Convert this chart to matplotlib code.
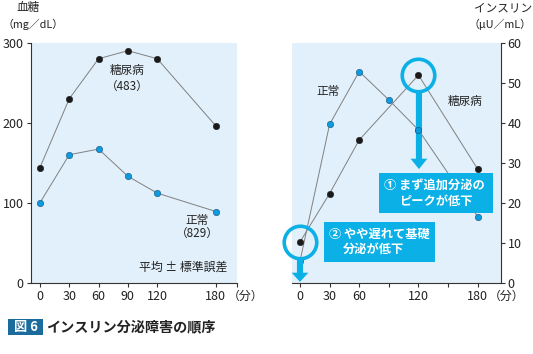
import matplotlib
matplotlib.use("Agg")
import matplotlib.pyplot as plt
from matplotlib.patches import Rectangle, FancyArrow

plt.rcParams['font.family'] = ['Noto Sans CJK JP', 'DejaVu Sans']

# data
minutes = [0, 30, 60, 90, 120, 180]
glucose_dm = [144, 230, 280, 290, 280, 196]
glucose_normal = [100, 160, 167, 133, 112, 89]
insulin_normal = [5.4, 39.6, 52.8, 45.7, 38.2, 16.5]
insulin_dm_minutes = [0, 30, 60, 120, 180]
insulin_dm = [10.2, 22.3, 35.7, 51.9, 28.4]

glucose_ticks = [0, 100, 200, 300]
insulin_ticks = [0, 10, 20, 30, 40, 50, 60]
left_xticks = [0, 30, 60, 90, 120, 180]
right_xticks = [0, 30, 60, 90, 120, 150, 180]
right_xlabels = ['0', '30', '60', '', '120', '', '180']

W, H = 533, 354
BG = '#e1f0fb'
CYAN = '#0bb0e6'
BLUE = '#0a9be0'
DARK = '#1a1a1a'
TXT = '#222222'
LINE = '#808080'


def fx(x):
    return x / W


def fy(y):
    return 1 - y / H


fig = plt.figure(figsize=(W / 100, H / 100), dpi=100)

axL = fig.add_axes([fx(30.7), fy(282.7), (237.3 - 30.7) / W, 240 / H])
axR = fig.add_axes([fx(292.3), fy(282.7), (500.7 - 292.3) / W, 240 / H])

for ax in (axL, axR):
    ax.set_facecolor(BG)
    ax.tick_params(colors='#333333', labelcolor=TXT, labelsize=9,
                   length=3, width=0.8, pad=2)
    ax.spines['top'].set_visible(False)
    ax.spines['bottom'].set_color('#333333')
    ax.spines['bottom'].set_linewidth(0.8)

# --- left: blood glucose
axL.spines['right'].set_visible(False)
axL.spines['left'].set_color('#333333')
axL.spines['left'].set_linewidth(0.8)
axL.set_xlim(-9.5, 202)
axL.set_ylim(0, 300)
axL.set_xticks(left_xticks)
axL.set_xticks([202], minor=True)
axL.tick_params(axis='x', which='minor', length=3, width=0.8, colors='#333333')
axL.set_yticks(glucose_ticks)

axL.plot(minutes, glucose_dm, color=LINE, lw=0.7, marker='o', ms=4.6,
         mfc=DARK, mec=DARK, mew=0.4, zorder=3)
axL.plot(minutes, glucose_normal, color=LINE, lw=0.7, marker='o', ms=4.6,
         mfc=BLUE, mec='#1b4f75', mew=0.4, zorder=3)

# --- right: insulin
axR.spines['left'].set_visible(False)
axR.spines['right'].set_color('#333333')
axR.spines['right'].set_linewidth(0.8)
axR.yaxis.tick_right()
axR.set_xlim(-7.8, 203.3)
axR.set_ylim(0, 60)
axR.set_xticks(right_xticks)
axR.set_xticklabels(right_xlabels)
axR.set_yticks(insulin_ticks)

axR.plot(minutes, insulin_normal, color=LINE, lw=0.7, marker='o', ms=4.6,
         mfc=BLUE, mec='#1b4f75', mew=0.4, zorder=3)
axR.plot(insulin_dm_minutes, insulin_dm, color=LINE, lw=0.7, marker='o', ms=4.6,
         mfc=DARK, mec=DARK, mew=0.4, zorder=3)

# annotation rings around the two highlighted points
axR.plot([insulin_dm_minutes[3]], [insulin_dm[3]], marker='o', ms=23.4,
         mfc='none', mec=CYAN, mew=2.6, zorder=5, clip_on=False)
axR.plot([insulin_dm_minutes[0]], [insulin_dm[0]], marker='o', ms=23.4,
         mfc='none', mec=CYAN, mew=2.6, zorder=5, clip_on=False)

# arrows (data units: x in minutes, y in uU/mL)
axR.add_patch(FancyArrow(120.5, 47.6, 0, -19.2, width=6.2, head_width=17,
                         head_length=2.6, length_includes_head=True,
                         color=CYAN, lw=0, zorder=4, clip_on=False))
axR.add_patch(FancyArrow(0, 6.0, 0, -5.8, width=6.2, head_width=17,
                         head_length=2.3, length_includes_head=True,
                         color=CYAN, lw=0, zorder=4, clip_on=False))
# redraw dot on top of the arrow
axR.plot([minutes[4]], [insulin_normal[4]], 'o', ms=4.6, mfc=BLUE,
         mec='#1b4f75', mew=0.4, zorder=6)

# boxes
for (x0, y0, x1, y1) in [(379.3, 172.7, 493.3, 212.7), (324.3, 221.7, 435, 261.7)]:
    fig.add_artist(Rectangle((fx(x0), fy(y1)), (x1 - x0) / W, (y1 - y0) / H,
                             transform=fig.transFigure, color=CYAN, lw=0,
                             zorder=10))

box_kw = dict(color='white', fontsize=8.8, fontweight='bold', va='center',
              ha='left', zorder=11)
fig.text(fx(384), fy(185.5), '① まず追加分泌の', **box_kw)
fig.text(fx(399), fy(201), 'ピークが低下', **box_kw)
fig.text(fx(329), fy(234), '② やや遅れて基礎', **box_kw)
fig.text(fx(343), fy(249.5), '分泌が低下', **box_kw)

# labels
lab = dict(color=TXT, fontsize=8.4, ha='center', va='center')
fig.text(fx(28), fy(8), '血糖', **lab)
fig.text(fx(2), fy(24), '（mg／dL）', color=TXT, fontsize=7.8,
         ha='left', va='center')
fig.text(fx(503), fy(8), 'インスリン', **lab)
fig.text(fx(531), fy(24), '（μU／mL）', color=TXT, fontsize=7.8,
         ha='right', va='center')

fig.text(fx(127.5), fy(70.5), '糖尿病', **lab)
fig.text(fx(127.5), fy(87), '（483）', **lab)
fig.text(fx(197.3), fy(220), '正常', **lab)
fig.text(fx(197.3), fy(234), '（829）', **lab)
fig.text(fx(227), fy(267.5), '平均 ± 標準誤差', color=TXT, fontsize=8.6,
         ha='right', va='center')
fig.text(fx(328), fy(91), '正常', **lab)
fig.text(fx(464.7), fy(101), '糖尿病', **lab)

fig.text(fx(227.5), fy(296.5), '（分）', color=TXT, fontsize=8.6, ha='left', va='center')
fig.text(fx(489), fy(296.5), '（分）', color=TXT, fontsize=8.6, ha='left', va='center')

# figure caption
fig.add_artist(Rectangle((fx(8), fy(335)), 35 / W, 16 / H,
                         transform=fig.transFigure, color='#1b6c9c', lw=0))
fig.text(fx(25.5), fy(327.3), '図 6', color='white', fontsize=9.5,
         fontweight='bold', ha='center', va='center')
fig.text(fx(46.5), fy(327.3), 'インスリン分泌障害の順序', color=TXT,
         fontsize=10.2, fontweight='bold', ha='left', va='center')

fig.savefig('out.png', dpi=100)
